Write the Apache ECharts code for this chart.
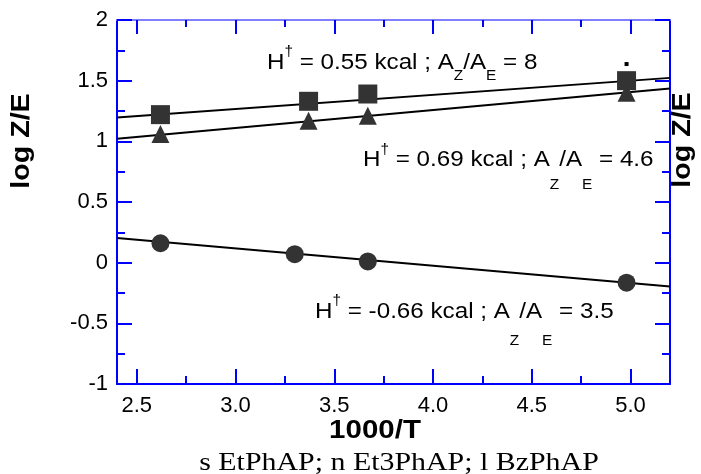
<!DOCTYPE html>
<html>
<head>
<meta charset="utf-8">
<script src="https://cdn.jsdelivr.net/npm/echarts@6/dist/echarts.min.js"></script>
<style>
html,body{margin:0;padding:0;background:#fff;}
#c{width:701px;height:474px;}
</style>
</head>
<body>
<div id="c"></div>
<script>
// ---- data ----
const xMajorTicks = [2.5, 3.0, 3.5, 4.0, 4.5, 5.0];
const xMinorTicks = [2.75, 3.25, 3.75, 4.25, 4.75];
const squareX = [2.62, 3.37, 3.67, 4.98];
const squareY = [1.22, 1.33, 1.39, 1.50];
const triangleX = [2.62, 3.37, 3.67, 4.98];
const triangleY = [1.06, 1.17, 1.21, 1.40];
const circleX = [2.62, 3.30, 3.67, 4.98];
const circleY = [0.16, 0.07, 0.01, -0.165];
const fitX = [2.4, 5.2];
const squareFitY = [1.196, 1.523];
const triangleFitY = [1.022, 1.435];
const circleFitY = [0.204, -0.196];
const strayX = [4.98];
const strayY = [1.637];
const annotations = [
  {h: '0.55', r: '8'},
  {h: '0.69', r: '4.6'},
  {h: '-0.66', r: '3.5'}
];
const xTitle = '1000/T';
const yTitle = 'log Z/E';
const footer = 's EtPhAP; n Et3PhAP; l BzPhAP';

const pairs = (xs, ys) => xs.map((x, i) => [x, ys[i]]);

const BLUE = '#0000ff';
const SANS = '"Liberation Sans", Arial, sans-serif';
const SERIF = '"Liberation Serif", "Times New Roman", serif';

const chart = echarts.init(document.getElementById('c'), null, {renderer: 'canvas'});

function xAxisDef(pos, values, len, labels, lineColor) {
  return {
    type: 'value', position: pos, min: 2.4, max: 5.2,
    axisLine: {show: lineColor != null, onZero: false, lineStyle: {color: lineColor || BLUE, width: 2}},
    axisTick: {show: true, inside: true, length: len, customValues: values, lineStyle: {color: BLUE, width: 2}},
    axisLabel: labels ? {show: true, customValues: values, margin: 11, color: '#000', fontSize: 22, fontFamily: SANS,
      formatter: v => v.toFixed(1)} : {show: false},
    splitLine: {show: false}
  };
}
function yAxisDef(pos, labels) {
  return {
    type: 'value', position: pos, min: -1, max: 2, interval: 0.5,
    axisLine: {show: true, onZero: false, lineStyle: {color: BLUE, width: 2}},
    axisTick: {show: true, inside: true, length: 15, lineStyle: {color: BLUE, width: 2}},
    minorTick: {show: true, splitNumber: 2, length: 8, lineStyle: {color: BLUE, width: 2}},
    axisLabel: labels ? {show: true, margin: 9, color: '#000', fontSize: 22, fontFamily: SANS} : {show: false},
    splitLine: {show: false}, minorSplitLine: {show: false}
  };
}

function annText(a) {
  return '{m|H}{sup|\u2020}{m| = ' + a.h + ' kcal ; A}{sub|Z}{m|/A}{sub|E}{m| = ' + a.r + '}';
}
function annRich(subShift) {
  return {
    m: {fontSize: 22, fontFamily: SANS, color: '#000', verticalAlign: 'middle'},
    sup: {fontSize: 14, fontFamily: SANS, color: '#000', verticalAlign: 'middle', padding: [0, 0, 20, 0]},
    sub: {fontSize: 14, fontFamily: SANS, color: '#000', verticalAlign: 'middle', padding: [subShift * 2, 0, 0, 0]}
  };
}
const annPos = [[267, 62.5, 14], [363, 160, 25], [315, 311.5, 30]];

const graphics = annotations.map((a, i) => ({
  type: 'text', x: annPos[i][0], y: annPos[i][1], scaleX: 1.1, z: 100,
  style: {text: annText(a), rich: annRich(annPos[i][2]), align: 'left', verticalAlign: 'middle'}
}));
graphics.push({
  type: 'text', x: 22, y: 141, rotation: Math.PI / 2, scaleX: 1.1, z: 100,
  style: {text: yTitle, font: 'bold 26px ' + SANS, fill: '#000', align: 'center', verticalAlign: 'middle'}
});
graphics.push({
  type: 'text', x: 683, y: 140, rotation: Math.PI / 2, scaleX: 1.1, z: 100,
  style: {text: yTitle, font: 'bold 26px ' + SANS, fill: '#000', align: 'center', verticalAlign: 'middle'}
});
graphics.push({
  type: 'text', x: 375, y: 431, scaleX: 1.18, z: 100,
  style: {text: xTitle, font: 'bold 25px ' + SANS, fill: '#000', align: 'center', verticalAlign: 'middle'}
});
graphics.push({
  type: 'text', x: 399, y: 463, scaleX: 1.15, z: 100,
  style: {text: footer, font: '26px ' + SERIF, fill: '#000', align: 'center', verticalAlign: 'middle'}
});

const markerColor = '#333333';
chart.setOption({
  animation: false,
  backgroundColor: '#ffffff',
  grid: {left: 117, right: 31, top: 20, bottom: 90, containLabel: false},
  xAxis: [
    xAxisDef('bottom', xMajorTicks, 15, true, BLUE),
    xAxisDef('bottom', xMinorTicks, 8, false, null),
    xAxisDef('top', xMajorTicks, 14, false, '#7f7fff'),
    xAxisDef('top', xMinorTicks, 7, false, null)
  ],
  yAxis: [yAxisDef('left', true), yAxisDef('right', false)],
  series: [
    {type: 'line', data: pairs(fitX, squareFitY), showSymbol: false, lineStyle: {color: '#000', width: 2}, z: 2},
    {type: 'line', data: pairs(fitX, triangleFitY), showSymbol: false, lineStyle: {color: '#000', width: 2}, z: 2},
    {type: 'line', data: pairs(fitX, circleFitY), showSymbol: false, lineStyle: {color: '#000', width: 2}, z: 2},
    {type: 'scatter', data: pairs(triangleX, triangleY), symbol: 'triangle', symbolSize: 18, itemStyle: {color: markerColor, opacity: 1}, z: 3},
    {type: 'scatter', data: pairs(squareX, squareY), symbol: 'rect', symbolSize: 19, itemStyle: {color: markerColor, opacity: 1}, z: 4},
    {type: 'scatter', data: pairs(circleX, circleY), symbol: 'circle', symbolSize: 18, itemStyle: {color: markerColor, opacity: 1}, z: 4},
    {type: 'scatter', data: pairs(strayX, strayY), symbol: 'rect', symbolSize: 4, itemStyle: {color: '#000', opacity: 1}, z: 4}
  ],
  graphic: graphics
});
</script>
</body>
</html>
